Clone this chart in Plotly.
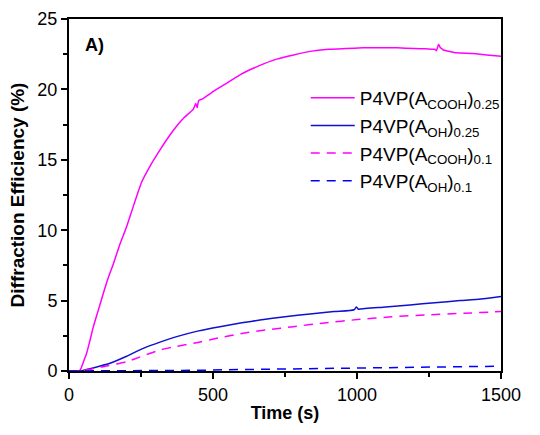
import plotly.graph_objects as go

# Diffraction efficiency growth curves (time in s, efficiency in %)
t_cooh_025 = [0, 30, 38, 45, 52, 61, 72, 84, 100, 119, 136, 154, 175, 200, 225, 252, 280, 316, 345,
              374, 400, 432, 440, 445, 450, 466, 500, 548, 595, 640, 680, 721, 780, 837, 900, 960,
              1020, 1080, 1140, 1200, 1240, 1270, 1276, 1283, 1290, 1300, 1346, 1400, 1450, 1500]
de_cooh_025 = [0, 0, 0.05, 0.35, 0.75, 1.25, 2.1, 3.1, 4.2, 5.5, 6.6, 7.6, 8.9, 10.25, 11.8, 13.4,
               14.5, 15.7, 16.6, 17.4, 18.0, 18.6, 19.0, 18.7, 19.2, 19.35, 19.85, 20.45, 21.05, 21.5,
               21.85, 22.15, 22.45, 22.7, 22.85, 22.9, 22.95, 22.96, 22.95, 22.9, 22.88, 22.85, 22.75,
               23.2, 22.95, 22.8, 22.6, 22.55, 22.45, 22.35]

t_oh_025 = [0, 38, 60, 90, 142, 200, 258, 316, 374, 450, 524, 600, 663, 750, 837, 920, 990, 998,
            1005, 1010, 1100, 1184, 1270, 1358, 1430, 1500]
de_oh_025 = [0, 0, 0.1, 0.25, 0.55, 1.05, 1.61, 2.05, 2.44, 2.85, 3.15, 3.42, 3.62, 3.85, 4.05,
             4.22, 4.35, 4.55, 4.38, 4.4, 4.55, 4.69, 4.85, 5.0, 5.12, 5.3]

t_cooh_01 = [0, 38, 80, 130, 200, 260, 316, 374, 432, 520, 605, 690, 779, 880, 1010, 1120, 1242,
             1370, 1500]
de_cooh_01 = [0, 0, 0.15, 0.35, 0.66, 1.1, 1.49, 1.75, 1.96, 2.35, 2.68, 2.93, 3.15, 3.4, 3.67,
              3.85, 3.98, 4.1, 4.22]

t_oh_01 = [0, 38, 200, 316, 450, 550, 663, 800, 1010, 1200, 1350, 1500]
de_oh_01 = [0, 0, 0.0, 0.02, 0.05, 0.09, 0.12, 0.16, 0.2, 0.25, 0.3, 0.34]

names = ["P4VP(A<sub>COOH</sub>)<sub>0.25</sub>",
         "P4VP(A<sub>OH</sub>)<sub>0.25</sub>",
         "P4VP(A<sub>COOH</sub>)<sub>0.1</sub>",
         "P4VP(A<sub>OH</sub>)<sub>0.1</sub>"]

FONT = "Liberation Sans, Arial, sans-serif"
MAGENTA = "#ff00ff"
BLUE = "#1010d0"
BLUE_D = "#0000ff"

fig = go.Figure()
fig.add_trace(go.Scatter(x=t_cooh_025, y=de_cooh_025, mode="lines", name=names[0],
                         line=dict(color=MAGENTA, width=1.5, shape="spline", smoothing=0.4)))
fig.add_trace(go.Scatter(x=t_oh_025, y=de_oh_025, mode="lines", name=names[1],
                         line=dict(color=BLUE, width=1.5, shape="spline", smoothing=0.6)))
fig.add_trace(go.Scatter(x=t_cooh_01, y=de_cooh_01, mode="lines", name=names[2],
                         line=dict(color=MAGENTA, width=1.5, dash="9px,7px",
                                   shape="spline", smoothing=0.6)))
fig.add_trace(go.Scatter(x=t_oh_01, y=de_oh_01, mode="lines", name=names[3],
                         line=dict(color=BLUE_D, width=1.5, dash="9px,7px")))

axis_common = dict(
    showline=True, linecolor="black", linewidth=2, mirror=True,
    ticks="outside", ticklen=6, tickwidth=1.5, tickcolor="black",
    showgrid=False, zeroline=False, automargin=False,
    tickfont=dict(family=FONT, size=18, color="black"),
    layer="below traces",
)

fig.update_xaxes(range=[0, 1500], tickvals=[0, 500, 1000, 1500],
                 minor=dict(ticks="outside", ticklen=4, tickwidth=1.5, tickcolor="black",
                            tickvals=[250, 750, 1250], showgrid=False),
                 title=dict(text="<b>Time (s)</b>", font=dict(family=FONT, size=18, color="black"),
                            standoff=3),
                 **axis_common)
fig.update_yaxes(range=[0, 25], tickvals=[0, 5, 10, 15, 20, 25],
                 minor=dict(ticks="outside", ticklen=4, tickwidth=1.5, tickcolor="black",
                            tickvals=[2.5, 7.5, 12.5, 17.5, 22.5], showgrid=False),
                 title=dict(text="<b>Diffraction Efficiency (%)</b>",
                            font=dict(family=FONT, size=19, color="black"), standoff=8),
                 **axis_common)

fig.add_annotation(text="<b>A)</b>", xref="paper", yref="paper", x=0.032, y=0.927,
                   xanchor="left", yanchor="middle", showarrow=False,
                   font=dict(family=FONT, size=18, color="black"))

fig.update_layout(
    width=540, height=435,
    margin=dict(l=69, r=39, t=19, b=64),
    paper_bgcolor="white", plot_bgcolor="white",
    font=dict(family=FONT, color="black"),
    legend=dict(x=0.548, y=0.83, xanchor="left", yanchor="top",
                bgcolor="rgba(0,0,0,0)", borderwidth=0,
                font=dict(family=FONT, size=19, color="black"),
                itemwidth=44, tracegroupgap=1),
    showlegend=True,
)

fig.write_html("out.html")
